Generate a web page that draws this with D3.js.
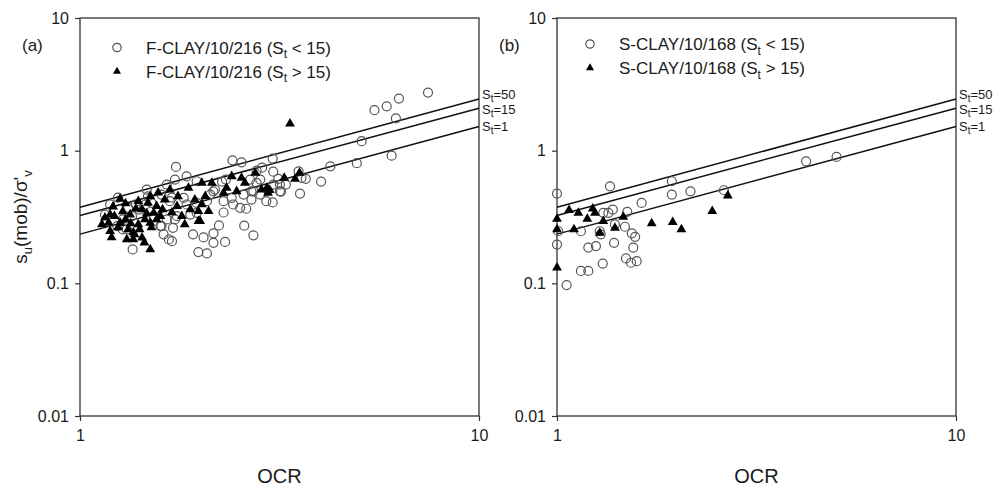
<!DOCTYPE html>
<html>
<head>
<meta charset="utf-8">
<script src="https://cdn.jsdelivr.net/npm/d3@7/dist/d3.min.js"></script>
<style>
  html, body { margin: 0; padding: 0; background: #fff; }
  svg { display: block; font-family: "Liberation Sans", Arial, sans-serif; }
</style>
</head>
<body>
<svg id="chart" width="1001" height="493"></svg>
<script>
// ---- data: [OCR, su(mob)/σ'v] ----
const fClayLow = [
  [7.45,2.74],[6.30,2.47],[5.87,2.16],[5.47,2.02],[6.19,1.75],[5.08,1.18],[6.04,0.917],[4.94,0.805],
  [4.24,0.762],[4.02,0.585],[3.56,0.475],[3.68,0.613],[3.04,0.871],[3.05,0.695],[3.17,0.555],[3.19,0.492],
  [3.04,0.407],[1.74,0.754],[2.41,0.845],[2.54,0.817],[2.77,0.707],[3.53,0.699],[2.83,0.605],[2.93,0.416],
  [2.69,0.428],[2.52,0.371],[2.61,0.365],[2.29,0.342],[2.58,0.272],[2.72,0.230],[2.23,0.273],[2.16,0.238],
  [2.04,0.222],[1.92,0.234],[2.31,0.205],[2.16,0.202],[1.98,0.172],[2.08,0.168],[1.355,0.180],[1.62,0.234],
  [1.67,0.214],[1.68,0.416],[1.70,0.208],[1.73,0.303],[1.60,0.270],[1.28,0.255],[1.48,0.453],[1.60,0.467],
  [1.82,0.441],[1.73,0.605],[1.32,0.371],[3.59,0.623],[3.14,0.613],[3.17,0.494],[2.69,0.494],[2.18,0.509],
  [2.12,0.467],[1.70,0.443],[1.51,0.404],[1.41,0.360],[1.35,0.321],[1.28,0.303],[1.53,0.321],[1.65,0.303],
  [1.75,0.321],[1.85,0.393],[1.96,0.404],[2.16,0.494],[2.08,0.416],[2.29,0.416],[2.40,0.441],[2.42,0.393],
  [2.57,0.467],[2.72,0.494],[2.77,0.572],[2.67,0.605],[3.05,0.555],[1.31,0.255],[1.24,0.270],[1.59,0.270],
  [1.71,0.262],[1.96,0.340],[1.46,0.393],[1.19,0.393],[1.155,0.330],[1.89,0.330],[2.83,0.467],[2.32,0.605],
  [2.86,0.745],[3.28,0.555],[1.85,0.641],[1.245,0.443],[1.38,0.393],[1.96,0.588],[1.65,0.555],[1.47,0.509],
  [2.27,0.585]
];
const fClayHigh = [
  [3.36,1.60],[3.55,0.680],[3.46,0.613],[3.25,0.623],[2.99,0.503],[1.50,0.180],[1.26,0.433],[1.19,0.330],
  [1.18,0.286],[1.19,0.247],[1.22,0.321],[1.26,0.286],[1.30,0.303],[1.335,0.330],[1.32,0.255],[1.37,0.234],
  [1.36,0.214],[1.43,0.221],[1.40,0.278],[1.455,0.303],[1.43,0.360],[1.50,0.286],[1.53,0.340],[1.48,0.404],
  [1.40,0.416],[1.556,0.381],[1.59,0.321],[1.68,0.509],[1.75,0.381],[1.80,0.321],[1.76,0.453],[1.87,0.524],
  [1.94,0.428],[1.89,0.360],[1.98,0.294],[2.02,0.572],[2.14,0.572],[2.40,0.641],[2.54,0.623],[2.59,0.572],
  [2.75,0.680],[2.33,0.524],[2.47,0.494],[2.29,0.481],[2.85,0.509],[2.94,0.524],[2.96,0.481],[2.06,0.453],
  [2.02,0.393],[1.98,0.350],[2.10,0.350],[2.00,0.294],[1.50,0.453],[1.36,0.242],
  [1.155,0.313],[1.21,0.379],[1.245,0.264],[1.28,0.348],[1.31,0.214],[1.34,0.283],[1.38,0.366],[1.41,0.255],
  [1.45,0.203],[1.47,0.336],[1.51,0.264],[1.556,0.303],[1.61,0.360],[1.63,0.428],[1.57,0.483],[1.30,0.400],
  [1.20,0.222],[1.135,0.278],[1.83,0.278],[1.70,0.342]
];
const sClayLow = [
  [4.21,0.831],[5.02,0.897],[1.94,0.588],[1.358,0.539],[1.00,0.475],[1.94,0.467],[2.16,0.494],[2.62,0.503],
  [1.63,0.404],[1.38,0.360],[1.345,0.340],[1.306,0.340],[1.50,0.346],[1.007,0.247],[1.00,0.196],[1.148,0.247],
  [1.28,0.247],[1.287,0.234],[1.397,0.278],[1.48,0.267],[1.54,0.238],[1.57,0.224],[1.39,0.202],[1.198,0.186],
  [1.252,0.191],[1.553,0.186],[1.489,0.154],[1.533,0.143],[1.584,0.147],[1.302,0.141],[1.148,0.124],[1.198,0.124],
  [1.057,0.097]
];
const sClayHigh = [
  [1.00,0.306],[1.00,0.255],[1.00,0.131],[1.072,0.356],[1.131,0.340],[1.191,0.306],[1.229,0.365],[1.245,0.340],
  [1.103,0.255],[1.306,0.294],[1.397,0.262],[1.466,0.317],[1.727,0.283],[1.95,0.289],[2.05,0.255],[2.45,0.350],
  [2.68,0.459],[1.28,0.240]
];

// reference lines for sensitivity S_t: value at OCR = 1 and at OCR = 10
const stValues = ["50", "15", "1"];
const stAtOcr1 = [0.375, 0.325, 0.235];
const stAtOcr10 = [2.45, 2.09, 1.52];

const xTicks = [1, 10];
const yTicks = [0.01, 0.1, 1, 10];
const panelTags = ["(a)", "(b)"];
const legendNames = ["F-CLAY/10/216", "S-CLAY/10/168"];
const legendConds = ["< 15", "> 15"];

// ---- layout ----
const svg = d3.select("#chart");
const plotTop = 18, plotBottom = 416;
const panels = [
  { left: 80, right: 479, low: fClayLow, high: fClayHigh, legX: 117, legY: 47.5, tag: panelTags[0], name: legendNames[0], yTitle: true },
  { left: 557, right: 956, low: sClayLow, high: sClayHigh, legX: 590, legY: 44, tag: panelTags[1], name: legendNames[1], yTitle: false }
];
const axisColor = "#333";
const textColor = "#1a1a1a";
// vertical nudges that keep the three S_t labels apart
const stLabelShift = [-3.5, 2.5, 1];

const y = d3.scaleLog().domain([0.01, 10]).range([plotBottom, plotTop]);

function subText(sel, parts, size, subSize) {
  // parts: array of [text, isSub]
  let shifted = false;
  parts.forEach(([t, sub]) => {
    const ts = sel.append("tspan").text(t);
    if (sub) { ts.attr("font-size", subSize).attr("dy", size * 0.28); shifted = true; }
    else if (shifted) { ts.attr("dy", -size * 0.28); shifted = false; }
  });
}

panels.forEach(p => {
  const x = d3.scaleLog().domain([1, 10]).range([p.left, p.right]);
  const g = svg.append("g");

  // axes
  const yAxis = d3.axisLeft(y).tickValues(yTicks).tickFormat(d => String(d))
    .tickSize(5).tickSizeOuter(0).tickPadding(6);
  const gy = g.append("g").attr("transform", `translate(${p.left},0)`).call(yAxis);
  const xAxis = d3.axisBottom(x).tickValues(xTicks).tickFormat(d => String(d))
    .tickSize(5).tickSizeOuter(0).tickPadding(9);
  const gx = g.append("g").attr("transform", `translate(0,${plotBottom})`).call(xAxis);
  [gx, gy].forEach(a => {
    a.select(".domain").remove();
    a.selectAll("line").attr("stroke", axisColor).attr("stroke-width", 1.2);
    a.selectAll("text").attr("font-size", 16).attr("fill", textColor)
      .attr("font-family", "'Liberation Sans', Arial, sans-serif");
  });

  // frame
  g.append("rect").attr("x", p.left).attr("y", plotTop)
    .attr("width", p.right - p.left).attr("height", plotBottom - plotTop)
    .attr("fill", "none").attr("stroke", axisColor).attr("stroke-width", 1.3);

  // S_t reference lines
  stValues.forEach((s, i) => {
    g.append("line")
      .attr("x1", x(1)).attr("y1", y(stAtOcr1[i]))
      .attr("x2", x(10)).attr("y2", y(stAtOcr10[i]))
      .attr("stroke", "#111").attr("stroke-width", 1.5);
    const t = g.append("text")
      .attr("x", x(10) + 3).attr("y", y(stAtOcr10[i]) + stLabelShift[i] + 3)
      .attr("font-size", 13).attr("fill", textColor);
    subText(t, [["S", false], ["t", true], ["=" + s, false]], 11, 10);
  });

  // open circles: S_t < 15
  g.append("g").selectAll("circle").data(p.low).join("circle")
    .attr("cx", d => x(d[0])).attr("cy", d => y(d[1])).attr("r", 4.5)
    .attr("fill", "none").attr("stroke", "#555").attr("stroke-width", 1.2);

  // filled triangles: S_t > 15
  const tri = d3.symbol().type(d3.symbolTriangle).size(42);
  g.append("g").selectAll("path").data(p.high).join("path")
    .attr("d", tri)
    .attr("transform", d => `translate(${x(d[0])},${y(d[1])})`)
    .attr("fill", "#000");

  // panel tag
  g.append("text").attr("x", p.left - 58).attr("y", 51)
    .attr("font-size", 17).attr("fill", textColor).text(p.tag);

  // legend
  g.append("circle").attr("cx", p.legX).attr("cy", p.legY).attr("r", 4.2)
    .attr("fill", "none").attr("stroke", "#555").attr("stroke-width", 1.2);
  g.append("path").attr("d", d3.symbol().type(d3.symbolTriangle).size(28)())
    .attr("transform", `translate(${p.legX},${p.legY + 24})`).attr("fill", "#000");
  legendConds.forEach((c, i) => {
    const t = g.append("text").attr("x", p.legX + 29).attr("y", p.legY + 6 + i * 24)
      .attr("font-size", 17).attr("fill", textColor);
    subText(t, [[p.name + " (S", false], ["t", true], [" " + c + ")", false]], 17, 12);
  });

  // x title
  g.append("text").attr("x", (p.left + p.right) / 2).attr("y", 483)
    .attr("text-anchor", "middle").attr("font-size", 20).attr("fill", textColor).text("OCR");

  // y title
  if (p.yTitle) {
    const t = g.append("text").attr("transform", `translate(27,${(plotTop + plotBottom) / 2}) rotate(-90)`)
      .attr("text-anchor", "middle").attr("font-size", 19).attr("fill", textColor);
    subText(t, [["s", false], ["u", true], ["(mob)/σ'", false], ["v", true]], 19, 13);
  }
});
</script>
</body>
</html>
